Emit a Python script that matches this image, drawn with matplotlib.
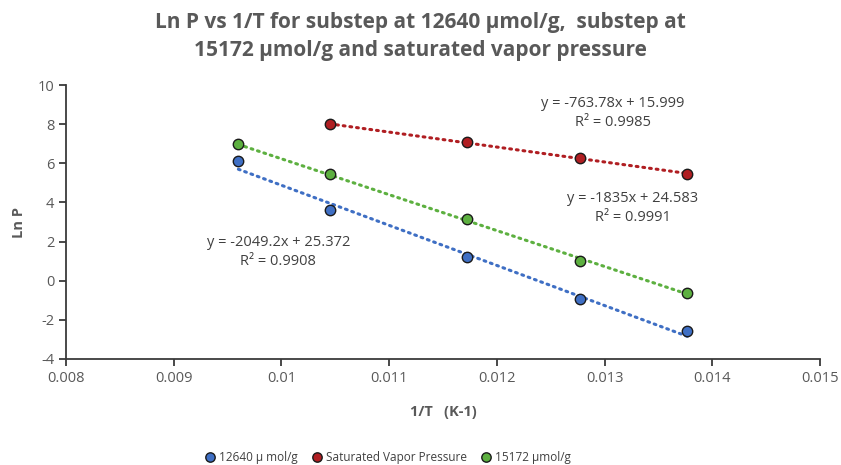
import matplotlib
import numpy as np

matplotlib.use("Agg")
import matplotlib.pyplot as plt

plt.rcParams["font.family"] = ["Open Sans", "DejaVu Sans"]
plt.rcParams["axes.unicode_minus"] = False

# 1/T values (K^-1) and ln P readings for each series
inv_t_substep = [0.00960, 0.01045, 0.01172, 0.01277, 0.01377]
ln_p_12640 = [6.12, 3.61, 1.21, -0.94, -2.57]
ln_p_15172 = [6.99, 5.45, 3.15, 1.01, -0.63]

inv_t_sat = [0.01045, 0.01172, 0.01277, 0.01377]
ln_p_sat = [8.01, 7.09, 6.27, 5.45]

# linear trendline coefficients (slope, intercept, R^2)
fit_12640 = (-2049.2, 25.372, 0.9908)
fit_sat = (-763.78, 15.999, 0.9985)
fit_15172 = (-1835.0, 24.583, 0.9991)

series = [
    ("12640 µ mol/g", inv_t_substep, ln_p_12640, fit_12640, "#3F6FC4", "-2049.2x + 25.372", (0.00997, 2.35)),
    ("Saturated Vapor Pressure", inv_t_sat, ln_p_sat, fit_sat, "#B01E22", "-763.78x + 15.999", (0.01308, 9.45)),
    ("15172 µmol/g", inv_t_substep, ln_p_15172, fit_15172, "#5DB040", "-1835x + 24.583", (0.01326, 4.60)),
]

text_color = "#404040"
fig = plt.figure(figsize=(8.41, 4.65), dpi=100)
ax = fig.add_axes([0.0785, 0.228, 0.8965, 0.589])

for label, xs, ys, (slope, intercept, r2), color, eq, (tx, ty) in series:
    xs = np.asarray(xs)
    line_x = np.array([xs.min(), xs.max()])
    ax.plot(line_x, slope * line_x + intercept, linestyle=(0, (0.6, 1.6)), dash_capstyle="round",
            color=color, linewidth=2.2, zorder=2)
    ax.plot(xs, ys, linestyle="none", marker="o", markersize=7.5, markerfacecolor=color,
            markeredgecolor="#1a1a1a", markeredgewidth=1.0, label=label, zorder=3)
    ax.text(tx, ty, f"y = {eq}\nR² = {r2:.4f}", ha="center", va="top", fontsize=10.5,
            color=text_color, linespacing=1.35)

ax.set_xlim(0.008, 0.015)
ax.set_ylim(-4, 10)
ax.set_xticks(np.arange(0.008, 0.0151, 0.001))
ax.set_xticklabels(["0.008", "0.009", "0.01", "0.011", "0.012", "0.013", "0.014", "0.015"])
ax.set_yticks(range(-4, 11, 2))
ax.spines["top"].set_visible(False)
ax.spines["right"].set_visible(False)
for side in ("left", "bottom"):
    ax.spines[side].set_color("#3a3a3a")
    ax.spines[side].set_linewidth(1.3)
ax.tick_params(direction="out", length=5, width=1.3, color="#3a3a3a", labelsize=10.5,
               labelcolor="#595959")

ax.set_xlabel("1/T   (K-1)", fontsize=10.5, fontweight="bold", color="#595959", labelpad=14)
ax.set_ylabel("Ln P", fontsize=10.5, fontweight="bold", color="#595959", labelpad=8)

fig.suptitle("Ln P vs 1/T for substep at 12640 µmol/g,  substep at\n15172 µmol/g and saturated vapor pressure",
             x=0.5, y=0.975, fontsize=15, fontweight="bold", color="#595959", linespacing=1.45)

fig.legend(loc="lower center", bbox_to_anchor=(0.46, -0.02), ncol=3, frameon=False, fontsize=8.5,
           labelcolor=text_color, handletextpad=0.2, columnspacing=1.0, markerscale=0.9,
           handlelength=1.2)

fig.savefig("out.png", dpi=100)
